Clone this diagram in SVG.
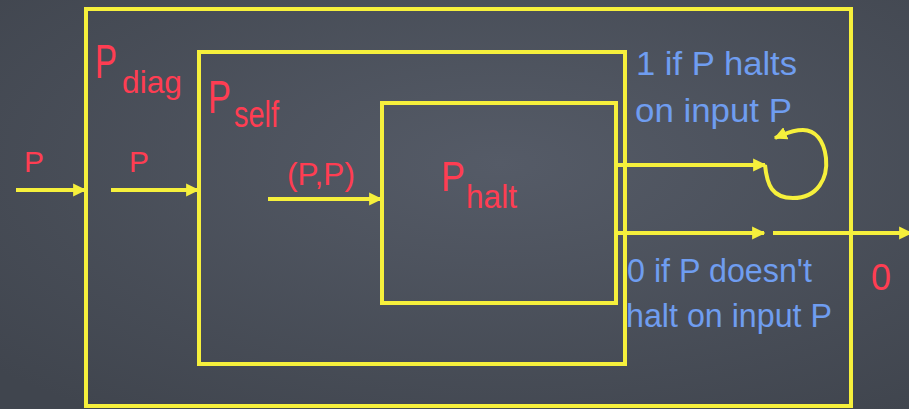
<svg xmlns="http://www.w3.org/2000/svg" width="909" height="409" viewBox="0 0 909 409">
  <defs>
    <marker id="arrow" viewBox="0 0 10 10" refX="9" refY="5" markerWidth="3.3" markerHeight="3.3" orient="auto" markerUnits="strokeWidth">
      <path d="M0,0 L10,5 L0,10 z" fill="#f6f03c"/>
    </marker>
    <radialGradient id="board" cx="55%" cy="40%" r="75%">
      <stop offset="0" stop-color="#555b67"/>
      <stop offset="1" stop-color="#40454e"/>
    </radialGradient>
  </defs>
  <style>
    .box { fill: none; stroke: #f6f03c; stroke-width: 4; }
    .wire { fill: none; stroke: #f6f03c; stroke-width: 4; }
    .red { fill: #ff3d52; font-family: "Liberation Sans", "DejaVu Sans", sans-serif; }
    .blue { fill: #6f9df0; font-family: "Liberation Sans", "DejaVu Sans", sans-serif; font-size: 33px; }
  </style>

  <rect x="0" y="0" width="909" height="409" fill="url(#board)"/>

  <!-- outer machine -->
  <g id="p-diag">
    <rect class="box" x="86" y="9" width="765" height="397"/>
    <text class="red" x="95" y="78" font-size="48" textLength="22" lengthAdjust="spacingAndGlyphs">P</text>
    <text class="red" x="122" y="93" font-size="32" textLength="60" lengthAdjust="spacingAndGlyphs">diag</text>
  </g>

  <!-- middle machine -->
  <g id="p-self">
    <rect class="box" x="199" y="52" width="426" height="312"/>
    <text class="red" x="208" y="113" font-size="46" textLength="23" lengthAdjust="spacingAndGlyphs">P</text>
    <text class="red" x="234" y="127" font-size="36" textLength="45" lengthAdjust="spacingAndGlyphs">self</text>
  </g>

  <!-- inner machine -->
  <g id="p-halt">
    <rect class="box" x="382" y="103" width="234" height="200"/>
    <text class="red" x="441" y="191" font-size="42" textLength="24" lengthAdjust="spacingAndGlyphs">P</text>
    <text class="red" x="466" y="208" font-size="34" textLength="51" lengthAdjust="spacingAndGlyphs">halt</text>
  </g>

  <!-- input / output labels -->
  <g id="labels">
    <text class="red" x="24" y="172" font-size="30" textLength="20" lengthAdjust="spacingAndGlyphs">P</text>
    <text class="red" x="129" y="172" font-size="30" textLength="20" lengthAdjust="spacingAndGlyphs">P</text>
    <text class="red" x="287" y="185" font-size="31" textLength="68" lengthAdjust="spacingAndGlyphs">(P,P)</text>
    <text class="red" x="871" y="290" font-size="36">0</text>
    <text class="blue" x="636" y="75" textLength="161" lengthAdjust="spacingAndGlyphs">1 if P halts</text>
    <text class="blue" x="635" y="122" textLength="157" lengthAdjust="spacingAndGlyphs">on input P</text>
    <text class="blue" x="627" y="282" textLength="185" lengthAdjust="spacingAndGlyphs">0 if P doesn't</text>
    <text class="blue" x="626" y="327" textLength="206" lengthAdjust="spacingAndGlyphs">halt on input P</text>
  </g>

  <!-- connectors -->
  <g id="connectors">
    <line class="wire" x1="16" y1="190" x2="85" y2="190" marker-end="url(#arrow)"/>
    <line class="wire" x1="111" y1="190" x2="198" y2="190" marker-end="url(#arrow)"/>
    <line class="wire" x1="268" y1="199" x2="381" y2="199" marker-end="url(#arrow)"/>
    <line class="wire" x1="616" y1="165" x2="765" y2="165" marker-end="url(#arrow)"/>
    <path class="wire" d="M765,165 C767,185 772,198 793,198 C818,198 828,178 826,158 C824,140 815,130 803,130 C795,130 789,132 782,135 L775,138" marker-end="url(#arrow)"/>
    <line class="wire" x1="616" y1="233" x2="764" y2="233" marker-end="url(#arrow)"/>
    <line class="wire" x1="773" y1="233" x2="911" y2="233" marker-end="url(#arrow)"/>
  </g>
</svg>
